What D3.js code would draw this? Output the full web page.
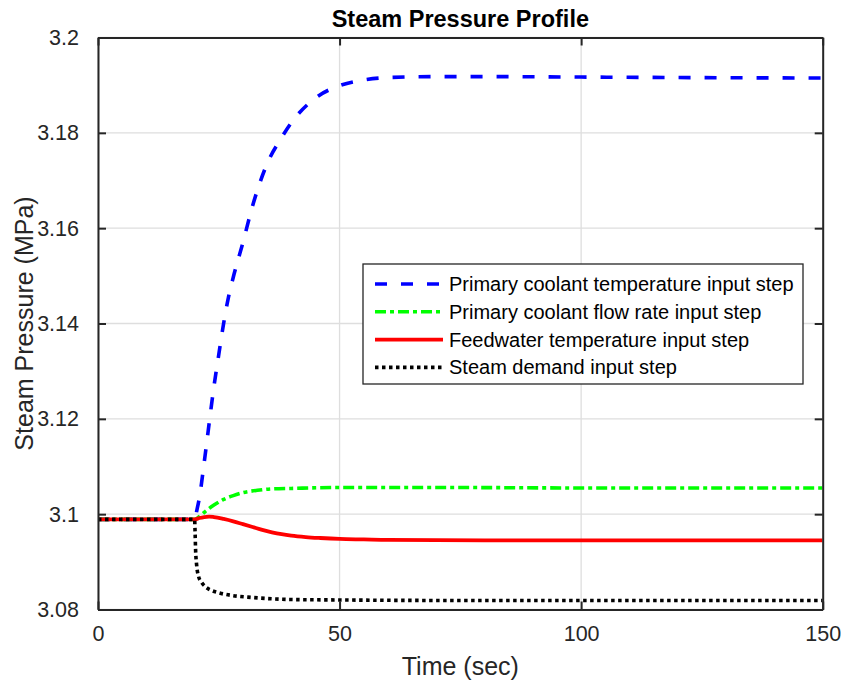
<!DOCTYPE html>
<html>
<head>
<meta charset="utf-8">
<script src="https://cdnjs.cloudflare.com/ajax/libs/d3/7.8.5/d3.min.js"></script>
<style>
  body { margin: 0; background: #fff; }
  text { font-family: "Liberation Sans", Arial, sans-serif; }
</style>
</head>
<body>
<script>
// Data
var seriesNames = [
    "Primary coolant temperature input step",
    "Primary coolant flow rate input step",
    "Feedwater temperature input step",
    "Steam demand input step"
];

var tCoolTemp = [0, 20, 20.5, 21, 22, 23, 24, 25, 26, 27, 28, 30, 32, 35, 38, 40, 45, 50, 55, 60, 70, 80, 100, 120, 150];
var pCoolTemp = [3.0989, 3.0989, 3.1010, 3.1035, 3.1110, 3.1190, 3.1268, 3.1335, 3.1400, 3.1455, 3.1497, 3.1570, 3.1647, 3.1735, 3.1790, 3.1821, 3.1873, 3.1899, 3.1911, 3.1916, 3.1918, 3.1918, 3.1917, 3.1916, 3.1915];

var tCoolFlow = [0, 20, 21, 22, 23, 24, 26, 28, 30, 33, 36, 40, 50, 70, 100, 150];
var pCoolFlow = [3.0989, 3.0989, 3.0995, 3.1004, 3.1012, 3.1019, 3.1031, 3.1039, 3.1045, 3.1050, 3.1053, 3.1054, 3.1056, 3.1056, 3.1055, 3.1055];

var tFeedTemp = [0, 20, 21, 22, 23, 24, 26, 28, 30, 32, 34, 36, 38, 40, 43, 46, 50, 55, 60, 80, 100, 150];
var pFeedTemp = [3.0989, 3.0989, 3.0992, 3.0994, 3.0995, 3.0994, 3.0990, 3.0985, 3.0979, 3.0973, 3.0967, 3.0962, 3.0958, 3.0955, 3.0952, 3.0950, 3.0948, 3.0947, 3.0946, 3.0945, 3.0945, 3.0945];

var tDemand = [0, 20, 20.1, 20.2, 20.4, 20.8, 21.5, 22.2, 23.5, 25, 28, 31, 35, 40, 50, 70, 100, 150];
var pDemand = [3.0989, 3.0989, 3.0960, 3.0925, 3.0895, 3.0870, 3.0856, 3.0848, 3.0840, 3.0835, 3.0829, 3.0826, 3.0823, 3.0821, 3.0820, 3.0819, 3.0819, 3.0819];

var xTicks = [0, 50, 100, 150];
var yTicks = [3.08, 3.1, 3.12, 3.14, 3.16, 3.18, 3.2];

// Set the dimensions of the canvas / graph
var margin = {top: 37.5, right: 20.3, bottom: 74.5, left: 98},
    width = 843 - margin.left - margin.right,
    height = 684 - margin.top - margin.bottom;

var axisColor = "#262626";

// Set the ranges
var x = d3.scaleLinear().domain([0, 150]).range([0, width]);
var y = d3.scaleLinear().domain([3.08, 3.2]).range([height, 0]);

var svg = d3.select("body")
    .append("svg")
        .attr("width", 843)
        .attr("height", 684)
    .append("g")
        .attr("transform", "translate(" + margin.left + "," + margin.top + ")");

svg.append("defs").append("clipPath").attr("id", "clip")
    .append("rect").attr("width", width).attr("height", height);

// Grid lines
svg.append("g").selectAll("line.gx")
    .data(xTicks)
  .enter().append("line")
    .attr("x1", function(d) { return x(d); })
    .attr("x2", function(d) { return x(d); })
    .attr("y1", 0).attr("y2", height)
    .attr("stroke", "#dedede").attr("stroke-width", 1.3);

svg.append("g").selectAll("line.gy")
    .data(yTicks)
  .enter().append("line")
    .attr("y1", function(d) { return y(d); })
    .attr("y2", function(d) { return y(d); })
    .attr("x1", 0).attr("x2", width)
    .attr("stroke", "#dedede").attr("stroke-width", 1.3);

// Lines
var line = d3.line()
    .x(function(d) { return x(d[0]); })
    .y(function(d) { return y(d[1]); })
    .curve(d3.curveMonotoneX);

function zip(t, p) { return t.map(function(d, i) { return [d, p[i]]; }); }

var series = [
    {data: zip(tCoolTemp, pCoolTemp), color: "#0000ff", dash: "12,14", w: 3.6},
    {data: zip(tCoolFlow, pCoolFlow), color: "#00ff00", dash: "11,4,4,4", w: 3.6},
    {data: zip(tFeedTemp, pFeedTemp), color: "#ff0000", dash: null, w: 3.8},
    {data: zip(tDemand, pDemand), color: "#000000", dash: "3.5,3.5", w: 3.6}
];

svg.append("g").attr("clip-path", "url(#clip)")
    .selectAll("path")
    .data(series)
  .enter().append("path")
    .attr("d", function(d) { return line(d.data); })
    .attr("fill", "none")
    .attr("stroke", function(d) { return d.color; })
    .attr("stroke-width", function(d) { return d.w; })
    .attr("stroke-dasharray", function(d) { return d.dash; });

// Axes (MATLAB style box with inward ticks)
var xAxis = d3.axisBottom(x).tickValues(xTicks).tickSizeInner(-8).tickSizeOuter(0).tickPadding(16)
    .tickFormat(d3.format("d"));
var yAxis = d3.axisLeft(y).tickValues(yTicks).tickSizeInner(-8).tickSizeOuter(0).tickPadding(19)
    .tickFormat(function(d) { return d3.format("")(+d.toFixed(2)); });

var gx = svg.append("g").attr("transform", "translate(0," + height + ")").call(xAxis);
var gy = svg.append("g").call(yAxis);
var gxt = svg.append("g").call(d3.axisTop(x).tickValues(xTicks).tickSizeInner(-8).tickSizeOuter(0).tickFormat(""));
var gyr = svg.append("g").attr("transform", "translate(" + width + ",0)")
    .call(d3.axisRight(y).tickValues(yTicks).tickSizeInner(-8).tickSizeOuter(0).tickFormat(""));

[gx, gy, gxt, gyr].forEach(function(g) {
    g.selectAll("path").attr("stroke", axisColor).attr("stroke-width", 2);
    g.selectAll("line").attr("stroke", axisColor).attr("stroke-width", 2);
    g.selectAll("text").attr("fill", axisColor)
        .style("font-family", "'Liberation Sans', Arial, sans-serif")
        .style("font-size", "21.5px");
});

// Axis labels and title
svg.append("text")
    .attr("x", width / 2).attr("y", height + 65)
    .attr("text-anchor", "middle")
    .attr("fill", axisColor)
    .style("font-size", "25px")
    .text("Time (sec)");

svg.append("text")
    .attr("transform", "translate(" + (-65) + "," + (height / 2) + ") rotate(-90)")
    .attr("text-anchor", "middle")
    .attr("fill", axisColor)
    .style("font-size", "25px")
    .text("Steam Pressure (MPa)");

svg.append("text")
    .attr("x", width / 2).attr("y", -11)
    .attr("text-anchor", "middle")
    .attr("fill", "#000")
    .style("font-size", "23.5px")
    .style("font-weight", "bold")
    .text("Steam Pressure Profile");

// Legend
var legend = svg.append("g")
    .attr("transform", "translate(" + (363 - margin.left) + "," + (264 - margin.top) + ")");

legend.append("rect")
    .attr("width", 440).attr("height", 120)
    .attr("fill", "#fff")
    .attr("stroke", axisColor).attr("stroke-width", 1.3);

var entry = legend.selectAll("g.entry")
    .data(series)
  .enter().append("g")
    .attr("transform", function(d, i) { return "translate(0," + (20 + i * 27.8) + ")"; });

entry.append("line")
    .attr("x1", 12).attr("x2", 80)
    .attr("stroke", function(d) { return d.color; })
    .attr("stroke-width", function(d) { return d.w; })
    .attr("stroke-dasharray", function(d) { return d.dash; });

entry.append("text")
    .attr("x", 86).attr("y", 7)
    .attr("fill", "#000")
    .style("font-size", "20px")
    .text(function(d, i) { return seriesNames[i]; });
</script>
</body>
</html>
